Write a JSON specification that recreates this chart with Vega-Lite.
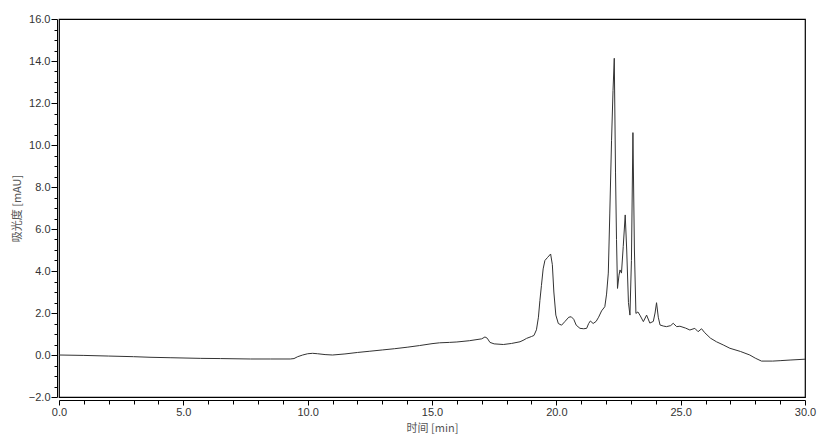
{
  "$schema": "https://vega.github.io/schema/vega-lite/v6.json",
  "autosize": "none",
  "width": 746,
  "height": 378,
  "padding": {"left": 59, "top": 19, "right": 19, "bottom": 41},
  "background": "white",
  "config": {
    "view": {"stroke": "black", "strokeWidth": 1.2},
    "font": "Liberation Sans",
    "axis": {
      "labelFont": "Liberation Sans",
      "labelFontSize": 11,
      "labelColor": "#333",
      "titleFont": "Noto Sans CJK SC",
      "titleFontSize": 11,
      "titleFontWeight": "normal",
      "titleColor": "#555",
      "domainColor": "black",
      "tickColor": "black",
      "grid": false
    }
  },
  "data": {
    "values": [
      {"t": 0.0, "v": 0.0}, {"t": 1.0, "v": -0.02}, {"t": 2.0, "v": -0.05}, {"t": 3.0, "v": -0.08},
      {"t": 3.7, "v": -0.11}, {"t": 4.5, "v": -0.13}, {"t": 5.7, "v": -0.16}, {"t": 6.5, "v": -0.17},
      {"t": 7.7, "v": -0.19}, {"t": 8.5, "v": -0.19}, {"t": 9.3, "v": -0.19}, {"t": 9.45, "v": -0.17},
      {"t": 9.6, "v": -0.08}, {"t": 9.8, "v": 0.0}, {"t": 10.0, "v": 0.06}, {"t": 10.2, "v": 0.08},
      {"t": 10.4, "v": 0.06}, {"t": 10.7, "v": 0.02}, {"t": 11.0, "v": 0.0}, {"t": 11.5, "v": 0.05},
      {"t": 12.0, "v": 0.12}, {"t": 12.5, "v": 0.18}, {"t": 13.0, "v": 0.24}, {"t": 13.5, "v": 0.3},
      {"t": 14.0, "v": 0.37}, {"t": 14.5, "v": 0.45}, {"t": 15.0, "v": 0.54}, {"t": 15.3, "v": 0.58},
      {"t": 15.7, "v": 0.6}, {"t": 16.0, "v": 0.62}, {"t": 16.5, "v": 0.68}, {"t": 17.0, "v": 0.77},
      {"t": 17.13, "v": 0.86}, {"t": 17.22, "v": 0.8}, {"t": 17.33, "v": 0.6}, {"t": 17.5, "v": 0.53},
      {"t": 17.87, "v": 0.5}, {"t": 18.2, "v": 0.55}, {"t": 18.54, "v": 0.63}, {"t": 18.7, "v": 0.72},
      {"t": 18.8, "v": 0.79}, {"t": 19.0, "v": 0.88}, {"t": 19.1, "v": 0.93}, {"t": 19.2, "v": 1.2},
      {"t": 19.28, "v": 1.8}, {"t": 19.34, "v": 2.6}, {"t": 19.4, "v": 3.3}, {"t": 19.47, "v": 4.1},
      {"t": 19.54, "v": 4.5}, {"t": 19.65, "v": 4.65}, {"t": 19.77, "v": 4.81}, {"t": 19.84, "v": 4.3},
      {"t": 19.9, "v": 3.0}, {"t": 19.98, "v": 1.9}, {"t": 20.08, "v": 1.5}, {"t": 20.21, "v": 1.42},
      {"t": 20.35, "v": 1.6}, {"t": 20.5, "v": 1.8}, {"t": 20.6, "v": 1.82}, {"t": 20.7, "v": 1.7},
      {"t": 20.8, "v": 1.42}, {"t": 20.95, "v": 1.27}, {"t": 21.1, "v": 1.25}, {"t": 21.22, "v": 1.27},
      {"t": 21.3, "v": 1.5}, {"t": 21.37, "v": 1.62}, {"t": 21.48, "v": 1.5}, {"t": 21.6, "v": 1.6},
      {"t": 21.7, "v": 1.8}, {"t": 21.82, "v": 2.1}, {"t": 21.95, "v": 2.3}, {"t": 22.02, "v": 2.9},
      {"t": 22.09, "v": 3.9}, {"t": 22.15, "v": 6.76}, {"t": 22.22, "v": 10.2}, {"t": 22.28, "v": 12.6},
      {"t": 22.33, "v": 14.13}, {"t": 22.38, "v": 8.67}, {"t": 22.42, "v": 5.5}, {"t": 22.46, "v": 3.17},
      {"t": 22.52, "v": 3.8}, {"t": 22.56, "v": 4.05}, {"t": 22.62, "v": 3.9}, {"t": 22.69, "v": 5.16},
      {"t": 22.77, "v": 6.67}, {"t": 22.83, "v": 5.0}, {"t": 22.9, "v": 2.5}, {"t": 22.96, "v": 1.9},
      {"t": 23.02, "v": 4.5}, {"t": 23.08, "v": 10.59}, {"t": 23.14, "v": 5.0}, {"t": 23.2, "v": 1.98},
      {"t": 23.28, "v": 2.05}, {"t": 23.36, "v": 1.9}, {"t": 23.5, "v": 1.59}, {"t": 23.63, "v": 1.9},
      {"t": 23.76, "v": 1.52}, {"t": 23.9, "v": 1.6}, {"t": 23.97, "v": 2.0}, {"t": 24.03, "v": 2.49},
      {"t": 24.1, "v": 1.8}, {"t": 24.17, "v": 1.43}, {"t": 24.3, "v": 1.38}, {"t": 24.43, "v": 1.35},
      {"t": 24.6, "v": 1.4}, {"t": 24.7, "v": 1.51}, {"t": 24.84, "v": 1.35}, {"t": 24.97, "v": 1.37},
      {"t": 25.2, "v": 1.28}, {"t": 25.37, "v": 1.19}, {"t": 25.57, "v": 1.27}, {"t": 25.7, "v": 1.11},
      {"t": 25.84, "v": 1.25}, {"t": 25.97, "v": 1.06}, {"t": 26.2, "v": 0.8}, {"t": 26.44, "v": 0.63},
      {"t": 26.71, "v": 0.48}, {"t": 26.98, "v": 0.32}, {"t": 27.4, "v": 0.17}, {"t": 27.78, "v": 0.0},
      {"t": 28.0, "v": -0.15}, {"t": 28.25, "v": -0.29}, {"t": 28.7, "v": -0.29}, {"t": 29.0, "v": -0.27},
      {"t": 29.4, "v": -0.24}, {"t": 30.0, "v": -0.2}
    ]
  },
  "mark": {"type": "line", "color": "#333", "strokeWidth": 1, "clip": true},
  "encoding": {
    "x": {
      "field": "t", "type": "quantitative",
      "scale": {"domain": [0, 30], "nice": false, "zero": false},
      "axis": {
        "title": "时间 [min]",
        "values": [0,1,2,3,4,5,6,7,8,9,10,11,12,13,14,15,16,17,18,19,20,21,22,23,24,25,26,27,28,29,30],
        "labelExpr": "datum.value % 5 === 0 ? format(datum.value, '.1f') : ''",
        "tickSize": {"condition": {"test": "datum.value % 5 === 0", "value": 5}, "value": 4},
        "offset": 3,
        "labelPadding": 1,
        "labelOverlap": false,
        "labelFlush": false,
        "titlePadding": 5
      }
    },
    "y": {
      "field": "v", "type": "quantitative",
      "scale": {"domain": [-2, 16], "nice": false, "zero": false},
      "axis": {
        "title": "吸光度 [mAU]",
        "values": [-2,-1.5,-1,-0.5,0,0.5,1,1.5,2,2.5,3,3.5,4,4.5,5,5.5,6,6.5,7,7.5,8,8.5,9,9.5,10,10.5,11,11.5,12,12.5,13,13.5,14,14.5,15,15.5,16],
        "labelExpr": "datum.value % 2 === 0 ? format(datum.value, '.1f') : ''",
        "tickSize": {"condition": {"test": "datum.value % 2 === 0", "value": 6}, "value": 3},
        "offset": 2,
        "labelPadding": 1,
        "labelOverlap": false,
        "labelFlush": false,
        "titlePadding": 6
      }
    }
  }
}
